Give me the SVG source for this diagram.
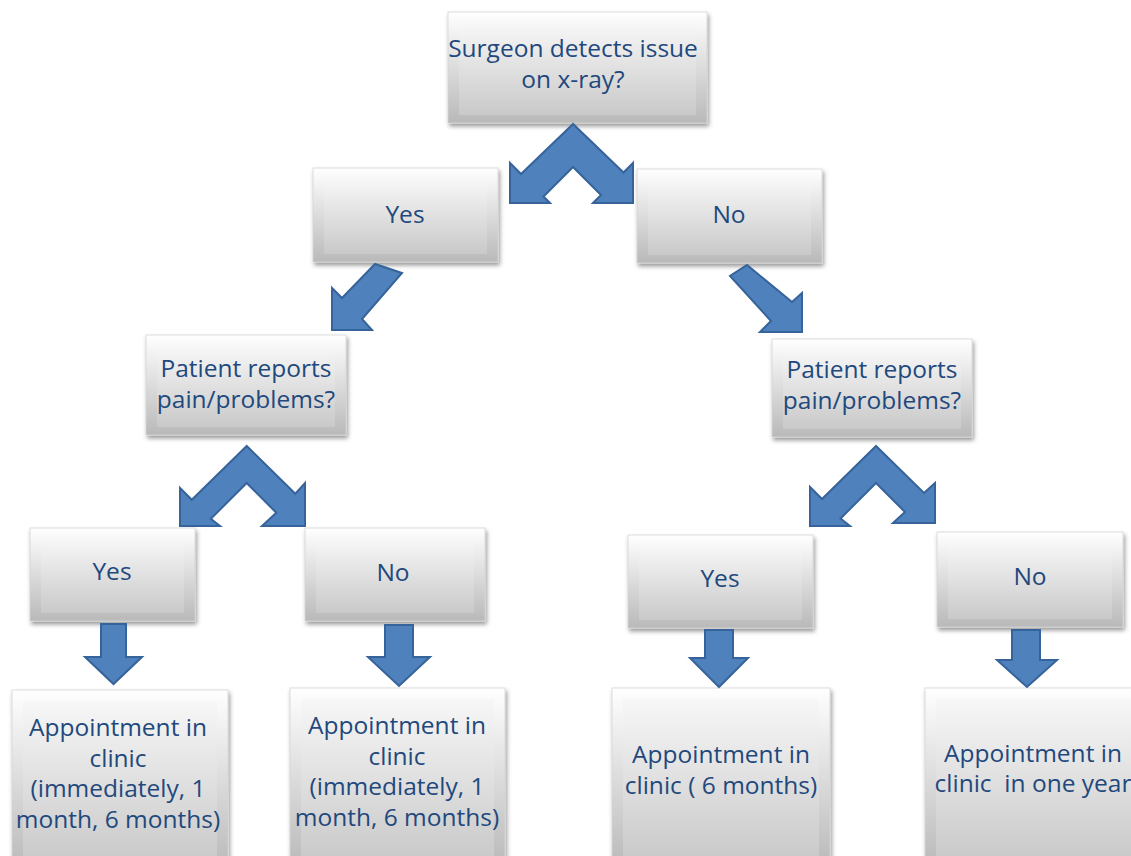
<svg xmlns="http://www.w3.org/2000/svg" width="1131" height="856" viewBox="0 0 1131 856">
<style>
.bx{fill:url(#edge);stroke:#D4D4D4;stroke-width:0.8;filter:url(#sh)}
.fc{fill:url(#face)}
.t{font-family:"Open Sans","Liberation Sans",sans-serif;font-size:24.5px;fill:#1F497D;text-anchor:middle}
.ar{fill:#4F81BD;stroke:#36639A;stroke-width:2;stroke-linejoin:miter}
</style>
<defs>
<linearGradient id="edge" x1="0" y1="0" x2="0" y2="1"><stop offset="0" stop-color="#FFFFFF"/><stop offset="1" stop-color="#B9B9B9"/></linearGradient>
<linearGradient id="face" x1="0" y1="0" x2="0" y2="1"><stop offset="0" stop-color="#F7F7F7"/><stop offset="1" stop-color="#C9C9C9"/></linearGradient>
<filter id="sh" x="-10%" y="-10%" width="120%" height="130%"><feDropShadow dx="1.5" dy="3" stdDeviation="2" flood-color="#000" flood-opacity="0.4"/></filter>
</defs>
<rect width="1131" height="856" fill="#FFFFFF"/>
<g id="n-top"><rect class="bx" x="448" y="12" width="259" height="111"/><rect class="fc" x="459" y="23" width="237" height="92"/><text class="t" x="573" y="57">Surgeon detects issue</text><text class="t" x="573" y="88">on x-ray?</text></g>
<g id="n-yes1"><rect class="bx" x="313" y="168" width="185" height="94"/><rect class="fc" x="324" y="179" width="163" height="75"/><text class="t" x="405" y="223">Yes</text></g>
<g id="n-no1"><rect class="bx" x="637" y="169" width="185" height="94"/><rect class="fc" x="648" y="180" width="163" height="75"/><text class="t" x="729" y="223">No</text></g>
<g id="n-pain-left"><rect class="bx" x="146" y="335" width="200" height="100"/><rect class="fc" x="157" y="346" width="178" height="81"/><text class="t" x="246" y="377">Patient reports</text><text class="t" x="246" y="408">pain/problems?</text></g>
<g id="n-pain-right"><rect class="bx" x="772" y="339" width="200" height="98"/><rect class="fc" x="783" y="350" width="178" height="79"/><text class="t" x="872" y="378">Patient reports</text><text class="t" x="872" y="409">pain/problems?</text></g>
<g id="n-yes-ll"><rect class="bx" x="30" y="528" width="165" height="93"/><rect class="fc" x="41" y="539" width="143" height="74"/><text class="t" x="112" y="580">Yes</text></g>
<g id="n-no-lr"><rect class="bx" x="305" y="528" width="180" height="93"/><rect class="fc" x="316" y="539" width="158" height="74"/><text class="t" x="393" y="581">No</text></g>
<g id="n-yes-rl"><rect class="bx" x="628" y="535" width="185" height="93"/><rect class="fc" x="639" y="546" width="163" height="74"/><text class="t" x="720" y="587">Yes</text></g>
<g id="n-no-rr"><rect class="bx" x="937" y="532" width="186" height="95"/><rect class="fc" x="948" y="543" width="164" height="76"/><text class="t" x="1030" y="585">No</text></g>
<g id="n-appt1"><rect class="bx" x="12" y="690" width="216" height="180"/><rect class="fc" x="23" y="701" width="194" height="161"/><text class="t" x="118" y="736">Appointment in</text><text class="t" x="118" y="767">clinic</text><text class="t" x="118" y="797">(immediately, 1</text><text class="t" x="118" y="828">month, 6 months)</text></g>
<g id="n-appt2"><rect class="bx" x="290" y="688" width="215" height="180"/><rect class="fc" x="301" y="699" width="193" height="161"/><text class="t" x="397" y="734">Appointment in</text><text class="t" x="397" y="765">clinic</text><text class="t" x="397" y="795">(immediately, 1</text><text class="t" x="397" y="826">month, 6 months)</text></g>
<g id="n-appt3"><rect class="bx" x="612" y="688" width="218" height="180"/><rect class="fc" x="623" y="699" width="196" height="161"/><text class="t" x="721" y="763">Appointment in</text><text class="t" x="721" y="794">clinic ( 6 months)</text></g>
<g id="n-appt4"><rect class="bx" x="925" y="688" width="220" height="180"/><rect class="fc" x="936" y="699" width="198" height="161"/><text class="t" x="1033" y="762">Appointment in</text><text class="t" x="1033" y="792" xml:space="preserve">clinic  in one year</text></g>
<g id="connectors">
<path class="ar" d="M573,124 L521,174 L510,163 L510,203 L550,203 L543.5,196.5 L573,167 L601,195 L593,203 L633,203 L633,163 L623.5,172.5 Z"/>
<path class="ar" d="M332,330 L332,288 L342,298 L375,264 L402,273 L362,319 L372,330 Z"/>
<path class="ar" d="M802,332 L760,332 L771,321 L730,276 L747,265 L792,302 L802,293 Z"/>
<path class="ar" d="M246.7,446 L191.8,499.8 L180,488 L180,526 L220,526 L210.8,518.8 L246.7,483 L276.3,512.7 L262,526 L305,526 L305,483 L295.3,493.7 Z"/>
<path class="ar" d="M876,446 L822,499 L810,487 L810,526 L850,526 L840.5,518.5 L876,483 L905,512 L893,523 L935,523 L935,483 L924,493 Z"/>
<path class="ar" d="M101,624 L126,624 L126,657 L142,657 L113.5,684 L85,657 L101,657 Z"/>
<path class="ar" d="M385,625 L413,625 L413,657 L430,657 L399,686 L368,657 L385,657 Z"/>
<path class="ar" d="M705,630 L733,630 L733,658 L748,658 L719,687 L690,658 L705,658 Z"/>
<path class="ar" d="M1012,630 L1040,630 L1040,660 L1057,660 L1027,687 L997,660 L1012,660 Z"/>
</g>
</svg>
